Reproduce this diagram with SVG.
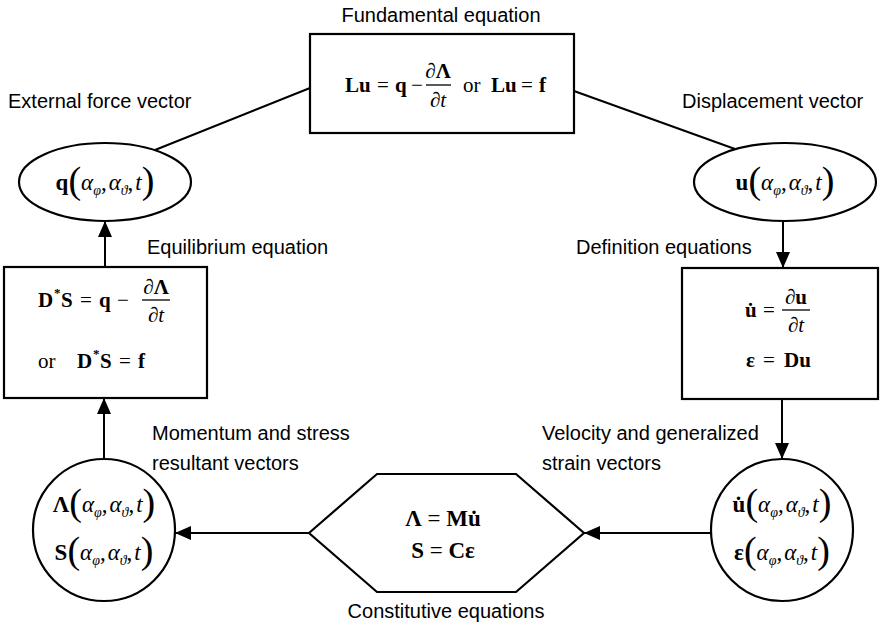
<svg xmlns="http://www.w3.org/2000/svg" width="881" height="624" viewBox="0 0 881 624">
<style>
.shape{fill:#fff;stroke:#000;stroke-width:2.2}
.conn{fill:none;stroke:#000;stroke-width:2}
.lbl{font-family:"Liberation Sans",Arial,sans-serif;font-size:20px;fill:#000}
.m{font-family:"Liberation Serif","Times New Roman",serif;font-size:21px;fill:#000}
.c{font-size:23px}
.b{font-weight:bold}
.i{font-style:italic}
.s{font-size:14px;font-style:italic}
.par{font-size:38px;font-weight:normal}
.sup{font-size:13px;font-weight:bold}
.bar{stroke:#000;stroke-width:1.3}
</style>
<defs>
<marker id="ah" markerUnits="userSpaceOnUse" markerWidth="16" markerHeight="14" refX="16" refY="7" orient="auto">
<path d="M0,0 L16,7 L0,14 z" fill="#000"/>
</marker>
</defs>

<g id="connectors">
<line class="conn" x1="310" y1="88" x2="155" y2="150"/>
<line class="conn" x1="574" y1="91" x2="735" y2="149"/>
<line class="conn" x1="783" y1="221" x2="783" y2="268" marker-end="url(#ah)"/>
<line class="conn" x1="782" y1="399" x2="782" y2="459" marker-end="url(#ah)"/>
<line class="conn" x1="711" y1="533" x2="584" y2="533" marker-end="url(#ah)"/>
<line class="conn" x1="309" y1="533" x2="175" y2="533" marker-end="url(#ah)"/>
<line class="conn" x1="104" y1="459" x2="104" y2="398" marker-end="url(#ah)"/>
<line class="conn" x1="105" y1="267" x2="105" y2="221" marker-end="url(#ah)"/>
</g>

<g id="fundamental">
<rect class="shape" x="310" y="34" width="264" height="99"/>
<text class="lbl" x="441" y="22" text-anchor="middle">Fundamental equation</text>
<text class="m"><tspan class="b" x="345" y="92">Lu</tspan><tspan x="377" y="92">=</tspan><tspan class="b" x="395" y="92">q</tspan><tspan x="411" y="92">−</tspan></text>
<text class="m" x="438" y="78" text-anchor="middle">∂<tspan class="b">Λ</tspan></text>
<line class="bar" x1="426" y1="85" x2="451" y2="85"/>
<text class="m" x="438" y="107" text-anchor="middle">∂<tspan class="i">t</tspan></text>
<text class="m"><tspan x="463" y="92">or</tspan><tspan class="b" x="491" y="92">Lu</tspan><tspan x="521" y="92">=</tspan><tspan class="b" x="539" y="92">f</tspan></text>
</g>

<g id="external-force">
<ellipse class="shape" cx="105" cy="182" rx="86" ry="39"/>
<text class="lbl" x="8" y="108">External force vector</text>
<text class="m c" x="105" y="190" text-anchor="middle"><tspan class="b">q</tspan><tspan class="par" dy="3">(</tspan><tspan class="i" dy="-3">α</tspan><tspan class="s" dy="5">φ</tspan><tspan dy="-5">,</tspan><tspan class="i" dx="2">α</tspan><tspan class="s" dy="5">ϑ</tspan><tspan dy="-5">,</tspan><tspan class="i" dx="2">t</tspan><tspan class="par" dy="3">)</tspan></text>
</g>

<g id="displacement">
<ellipse class="shape" cx="785" cy="182" rx="91" ry="39"/>
<text class="lbl" x="682" y="108">Displacement vector</text>
<text class="m c" x="785" y="190" text-anchor="middle"><tspan class="b">u</tspan><tspan class="par" dy="3">(</tspan><tspan class="i" dy="-3">α</tspan><tspan class="s" dy="5">φ</tspan><tspan dy="-5">,</tspan><tspan class="i" dx="2">α</tspan><tspan class="s" dy="5">ϑ</tspan><tspan dy="-5">,</tspan><tspan class="i" dx="2">t</tspan><tspan class="par" dy="3">)</tspan></text>
</g>

<g id="equilibrium">
<rect class="shape" x="4" y="267" width="203" height="131"/>
<text class="lbl" x="147" y="254">Equilibrium equation</text>
<text class="m"><tspan class="b" x="38" y="307">D</tspan><tspan class="sup" x="54" y="297">*</tspan><tspan class="b" x="61" y="307">S</tspan><tspan x="80" y="307">=</tspan><tspan class="b" x="99" y="307">q</tspan><tspan x="117" y="307">−</tspan></text>
<text class="m" x="156" y="294" text-anchor="middle">∂<tspan class="b">Λ</tspan></text>
<line class="bar" x1="142" y1="300" x2="170" y2="300"/>
<text class="m" x="156" y="322" text-anchor="middle">∂<tspan class="i">t</tspan></text>
<text class="m"><tspan x="38" y="368">or</tspan><tspan class="b" x="77" y="368">D</tspan><tspan class="sup" x="93" y="358">*</tspan><tspan class="b" x="100" y="368">S</tspan><tspan x="119" y="368">=</tspan><tspan class="b" x="138" y="368">f</tspan></text>
</g>

<g id="definition">
<rect class="shape" x="682" y="268" width="196" height="131"/>
<text class="lbl" x="576" y="254">Definition equations</text>
<text class="m"><tspan class="b" x="745" y="317">u̇</tspan><tspan x="763" y="317">=</tspan></text>
<text class="m" x="796" y="304" text-anchor="middle">∂<tspan class="b">u</tspan></text>
<line class="bar" x1="782" y1="310" x2="810" y2="310"/>
<text class="m" x="796" y="332" text-anchor="middle">∂<tspan class="i">t</tspan></text>
<text class="m"><tspan class="b" x="746" y="367">ε</tspan><tspan x="763" y="367">=</tspan><tspan class="b" x="784" y="367">Du</tspan></text>
</g>

<g id="strain-vectors">
<circle class="shape" cx="782" cy="530" r="71"/>
<text class="lbl" x="542" y="440">Velocity and generalized</text>
<text class="lbl" x="542" y="470">strain vectors</text>
<text class="m c" x="782" y="512" text-anchor="middle"><tspan class="b">u̇</tspan><tspan class="par" dy="3">(</tspan><tspan class="i" dy="-3">α</tspan><tspan class="s" dy="5">φ</tspan><tspan dy="-5">,</tspan><tspan class="i" dx="2">α</tspan><tspan class="s" dy="5">ϑ</tspan><tspan dy="-5">,</tspan><tspan class="i" dx="2">t</tspan><tspan class="par" dy="3">)</tspan></text>
<text class="m c" x="782" y="560" text-anchor="middle"><tspan class="b">ε</tspan><tspan class="par" dy="3">(</tspan><tspan class="i" dy="-3">α</tspan><tspan class="s" dy="5">φ</tspan><tspan dy="-5">,</tspan><tspan class="i" dx="2">α</tspan><tspan class="s" dy="5">ϑ</tspan><tspan dy="-5">,</tspan><tspan class="i" dx="2">t</tspan><tspan class="par" dy="3">)</tspan></text>
</g>

<g id="constitutive">
<polygon class="shape" points="309,533 377,474 516,474 584,533 516,592 377,592"/>
<text class="lbl" x="446" y="618" text-anchor="middle">Constitutive equations</text>
<text class="m c" x="443" y="526" text-anchor="middle"><tspan class="b">Λ</tspan> = <tspan class="b">Mu̇</tspan></text>
<text class="m c" x="443" y="558" text-anchor="middle"><tspan class="b">S</tspan> = <tspan class="b">Cε</tspan></text>
</g>

<g id="momentum-stress">
<circle class="shape" cx="104" cy="530" r="71"/>
<text class="lbl" x="152" y="440">Momentum and stress</text>
<text class="lbl" x="152" y="470">resultant vectors</text>
<text class="m c" x="104" y="512" text-anchor="middle"><tspan class="b">Λ</tspan><tspan class="par" dy="3">(</tspan><tspan class="i" dy="-3">α</tspan><tspan class="s" dy="5">φ</tspan><tspan dy="-5">,</tspan><tspan class="i" dx="2">α</tspan><tspan class="s" dy="5">ϑ</tspan><tspan dy="-5">,</tspan><tspan class="i" dx="2">t</tspan><tspan class="par" dy="3">)</tspan></text>
<text class="m c" x="104" y="560" text-anchor="middle"><tspan class="b">S</tspan><tspan class="par" dy="3">(</tspan><tspan class="i" dy="-3">α</tspan><tspan class="s" dy="5">φ</tspan><tspan dy="-5">,</tspan><tspan class="i" dx="2">α</tspan><tspan class="s" dy="5">ϑ</tspan><tspan dy="-5">,</tspan><tspan class="i" dx="2">t</tspan><tspan class="par" dy="3">)</tspan></text>
</g>
</svg>
